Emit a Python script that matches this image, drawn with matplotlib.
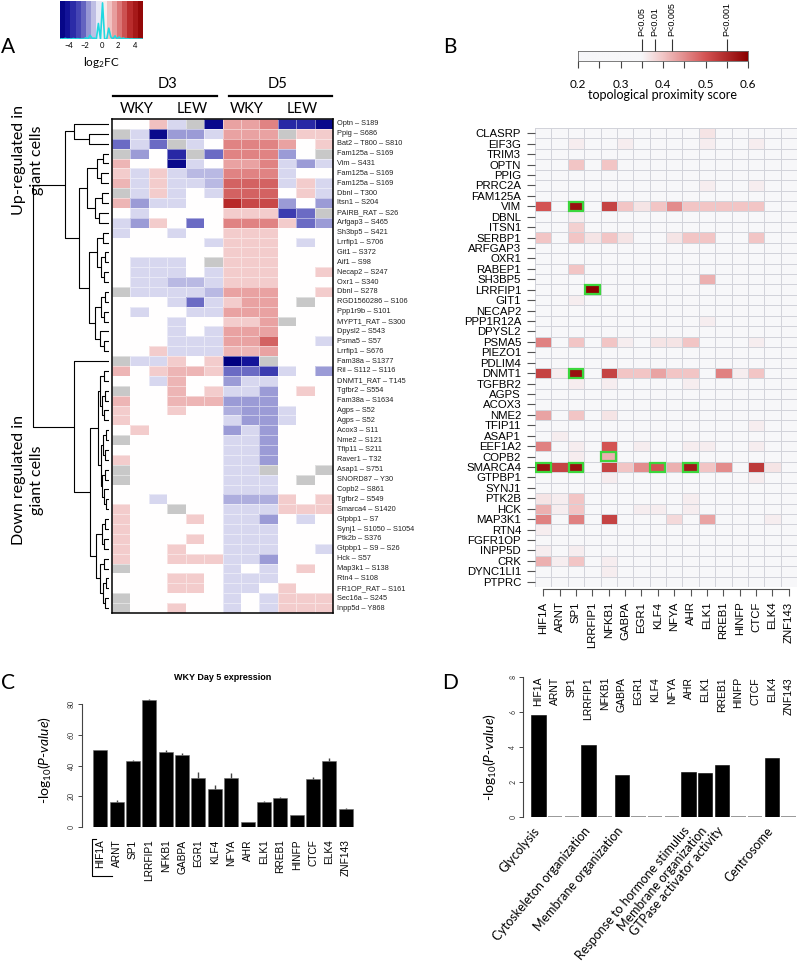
import numpy as np
import matplotlib
matplotlib.use('Agg')
import matplotlib.pyplot as plt
from matplotlib.colors import LinearSegmentedColormap
from matplotlib.patches import Rectangle
from matplotlib.lines import Line2D

plt.rcParams['mathtext.fontset'] = 'custom'
plt.rcParams['mathtext.rm'] = 'Lato'
plt.rcParams['mathtext.it'] = 'Lato:italic'
plt.rcParams['font.family'] = ['Lato', 'DejaVu Sans']

N = np.nan

# ---------------- panel A : log2FC of phosphosites ----------------
a_rows = ['Optn – S189', 'Ppig – S686', 'Bat2 – T800 – S810', 'Fam125a – S169', 'Vim – S431',
          'Fam125a – S169', 'Fam125a – S169', 'Dbnl – T300', 'Itsn1 – S204', 'PAIRB_RAT – S26',
          'Arfgap3 – S465', 'Sh3bp5 – S421', 'Lrrfip1 – S706', 'Git1 – S372', 'Aif1 – S98',
          'Necap2 – S247', 'Oxr1 – S340', 'Dbnl – S278', 'RGD1560286 – S106', 'Ppp1r9b – S101',
          'MYPT1_RAT – S300', 'Dpysl2 – S543', 'Psma5 – S57', 'Lrrfip1 – S676', 'Fam38a – S1377',
          'Ril – S112 – S116', 'DNMT1_RAT – T145', 'Tgfbr2 – S554', 'Fam38a – S1634', 'Agps – S52',
          'Agps – S52', 'Acox3 – S11', 'Nme2 – S121', 'Tfip11 – S211', 'Raver1 – T32',
          'Asap1 – S751', 'SNORD87 – Y30', 'Copb2 – S861', 'Tgfbr2 – S549', 'Smarca4 – S1420',
          'Gtpbp1 – S7', 'Synj1 – S1050 – S1054', 'Ptk2b – S376', 'Gtpbp1 – S9 – S26', 'Hck – S57',
          'Map3k1 – S138', 'Rtn4 – S108', 'FR1OP_RAT – S161', 'Sec16a – S245', 'Inpp5d – Y868']
a_groups = ['D3', 'D5']
a_strains = ['WKY', 'LEW']
# columns: D3 WKY x3, D3 LEW x3, D5 WKY x3, D5 LEW x3
a_fc = [
    [0, 0, 1, -0.5, N, -4.5, 1.5, 1.5, 2, -3.5, -3.5, -4.5],
    [N, -0.5, -4.5, -1.5, -1.5, -0.5, 1.5, 1.5, 1.5, N, 0.8, 0.8],
    [-2, -0.5, -2, N, -0.5, 0, 2, 2, 2, 1.5, 0, 0.8],
    [N, -1.5, 0, -3.5, N, -2, 2, 2, 2, -1.5, 0, N],
    [1.2, 0, 0, -4.5, -0.5, 0, 1.5, 1.5, 2, -0.5, -1.5, -0.5],
    [0.8, -0.5, 0.8, -0.5, -1, -1, 2, 2, 2, -0.5, 0, 0],
    [1.2, -0.5, 0.8, -0.5, -0.5, -1, 2.5, 2.5, 2.5, -0.5, 0.8, -0.5],
    [N, -0.5, 0.8, -0.5, 0, -0.5, 2.5, 2.5, 2.5, 0, 0.8, -0.5],
    [1.2, -1.5, -0.5, -0.5, 0, 0, 3.5, 3, 3, -1.5, 0, -1.5],
    [0, -0.5, 0, 0, 0, 0, 0.8, 0.8, 0.8, -3, -2, N],
    [-0.5, -1.5, 0.8, 0, -2, 0, 2, 2, 2, 0.8, -2, -1.5],
    [-0.5, 0, 0, -0.5, 0, 0, 0.8, 0.8, 0.8, 0, 0, 0],
    [0, 0, 0, 0, 0, -0.5, 0.8, 0.8, 0.8, 0, -0.5, 0],
    [0, 0, 0, 0, 0, 0, 0.8, 0.8, 0.8, 0, 0, 0],
    [0, -0.5, -0.5, -0.5, 0, N, 0.8, 0.8, 0.8, 0, 0, 0],
    [0, -0.5, -0.5, -0.5, 0, -0.5, 0.8, 0.8, 0.8, 0, 0, 0.8],
    [0, -0.5, -0.5, -1, -1, -0.5, 0.8, 0.8, 0.8, 0, 0, 0],
    [N, -0.5, -0.5, -0.5, -0.5, -1, 1.5, 1.5, 1.5, 0, 0, 0.8],
    [0, 0, 0, -0.5, -2, -0.5, 0.8, 1.5, 1.5, 0, N, 0],
    [0, -0.5, 0, 0, -0.5, -0.5, 1.5, 1.5, 1.5, 0, 0, 0],
    [0, 0, 0, -0.5, 0, 0, 0.8, 0.8, 1.5, N, 0, 0],
    [0, 0, 0, -0.5, 0, -0.5, 1.5, 1.5, 1.5, 0, 0, 0],
    [0, 0, 0, -0.5, -0.5, -0.5, 1.5, 1.5, 2.5, 0, 0, -0.5],
    [0, 0, 0.8, -0.5, -0.5, -0.5, 1.2, 1.2, 1.5, 0, 0, 0],
    [N, -0.5, -0.5, 0.8, 0, 0.8, -5, -4, N, 0, 0, 0],
    [1.2, 0, 0.8, 1.2, 1.2, 0.8, -2, -2, -3, -0.5, 0, -1.5],
    [0, 0, -0.5, 1.2, 0, 0, -1.5, -0.5, -0.5, 0, 0, 0],
    [N, 0, 0, 1.2, 0, 0.8, -0.5, -0.5, -1.5, 0, 0.8, 0],
    [1.2, 0, 0, 1.2, 1.2, 1.2, -1.5, -1.5, -1.5, 0, 0, 0],
    [0.8, 0, 0, 0.8, 0, 0, -1.2, -1.5, -1.5, -0.5, 0, 0],
    [0.8, 0, 0, 0, 0, 0, -0.5, -1.5, -1.5, -0.5, 0, 0],
    [0, 0.8, 0, 0, 0, 0, -1.5, -0.5, -1.5, 0, 0, 0],
    [N, 0, 0, 0, 0, 0, -0.5, -0.5, -1.5, 0, 0, 0],
    [0, 0, 0, 0, 0, 0, -0.5, -0.5, -1.5, 0, 0, 0],
    [0.8, 0, 0, 0, 0, 0, -0.5, -0.5, -1.5, 0, 0, 0],
    [N, 0, 0, 0, 0, 0, -0.5, -0.5, N, 0, 0, N],
    [N, 0, 0, 0, 0, 0, -0.5, -0.5, -0.5, 0, N, 0],
    [0, 0, 0, 0, 0, 0, -0.5, -0.5, -0.5, 0, 0, 0],
    [0, 0, -0.5, 0, 0, 0, -1.2, -1.2, -1.2, 0.8, 0, 0.8],
    [0.8, 0, 0, N, 0, 0, -0.5, -0.5, -0.5, 0.8, 0.8, 0.8],
    [0.8, 0, 0, 0, 0.8, 0, -0.5, -0.5, -1.5, 0, -0.5, 0],
    [0.8, 0, 0, 0, 0, 0, -0.5, -0.5, -0.5, 0, 0, 0],
    [0.8, 0, 0, 0, 0.8, 0, -0.5, -0.5, -0.5, 0, 0, 0],
    [0.8, 0, 0, 0.8, 0, 0, -0.5, -0.5, -0.5, 0, 0, -0.5],
    [0.8, 0, 0, 0.8, 0.8, 0.8, -0.5, -0.5, -1.5, 0, 0, 0],
    [N, 0, 0, 0, 0, 0, -0.5, 0, -0.5, 0, 0.8, 0],
    [0, 0, 0, 0.8, 0.8, 0, -0.5, -0.5, -0.5, 0, 0, 0],
    [0, 0, 0, 0.8, 0.8, 0, -0.5, -0.5, 0, 0.8, 0, 0],
    [N, 0, 0, 0, 0, 0, -0.5, 0, -0.5, 0.8, 0.8, 0.8],
    [N, 0, 0, 0.8, 0, 0, -0.5, 0, -0.5, 0.8, 0.8, 0.8],
]
# row dendrogram: [merge height, left, right], leaves = row index
a_tree = [76,
          [44,
           [35, 0, [20, 1, 2]],
           [30,
            [22, [12, [6, 3, 4], [8, 5, 6]], [14, [7, 7, 8], [10, 9, 10]]],
            [20, [12, [6, 11, 12], [8, [4, 13, 14], [5, 15, 16]]],
                 [14, [8, [4, 17, 18], [5, 19, 20]], [9, 21, [5, 22, 23]]]]]],
          [35,
           24,
           [19,
            [11, [9, [5, 25, 26], [7, [4, 27, 28], [5, 29, 30]]],
                 [8, [6, [3, 31, 32], [4, 33, 34]], [7, [4, 35, 36], [5, 37, [3, 38, 39]]]]],
            [13, [7, [4, 40, 41], [5, 42, 43]], [9, [5, 44, 45], [6, [3, 46, 47], [4, 48, 49]]]]]]]

# ---------------- panel B : topological proximity ----------------
b_genes = ['CLASRP', 'EIF3G', 'TRIM3', 'OPTN', 'PPIG', 'PRRC2A', 'FAM125A', 'VIM', 'DBNL', 'ITSN1',
           'SERBP1', 'ARFGAP3', 'OXR1', 'RABEP1', 'SH3BP5', 'LRRFIP1', 'GIT1', 'NECAP2', 'PPP1R12A',
           'DPYSL2', 'PSMA5', 'PIEZO1', 'PDLIM4', 'DNMT1', 'TGFBR2', 'AGPS', 'ACOX3', 'NME2', 'TFIP11',
           'ASAP1', 'EEF1A2', 'COPB2', 'SMARCA4', 'GTPBP1', 'SYNJ1', 'PTK2B', 'HCK', 'MAP3K1', 'RTN4',
           'FGFR1OP', 'INPP5D', 'CRK', 'DYNC1LI1', 'PTPRC']
b_tfs = ['HIF1A', 'ARNT', 'SP1', 'LRRFIP1', 'NFKB1', 'GABPA', 'EGR1', 'KLF4', 'NFYA', 'AHR',
         'ELK1', 'RREB1', 'HINFP', 'CTCF', 'ELK4', 'ZNF143']
b_scores = [
    ('CLASRP', 'ELK1', 0.37),
    ('EIF3G', 'SP1', 0.36), ('EIF3G', 'GABPA', 0.36), ('EIF3G', 'ELK1', 0.36), ('EIF3G', 'CTCF', 0.36),
    ('OPTN', 'SP1', 0.40), ('OPTN', 'NFKB1', 0.40),
    ('PRRC2A', 'ELK1', 0.36), ('PRRC2A', 'CTCF', 0.36),
    ('VIM', 'HIF1A', 0.50), ('VIM', 'SP1', 0.58), ('VIM', 'NFKB1', 0.52), ('VIM', 'GABPA', 0.40),
    ('VIM', 'EGR1', 0.37), ('VIM', 'KLF4', 0.40), ('VIM', 'NFYA', 0.45), ('VIM', 'AHR', 0.40),
    ('VIM', 'ELK1', 0.40), ('VIM', 'RREB1', 0.40), ('VIM', 'HINFP', 0.40), ('VIM', 'CTCF', 0.40),
    ('DBNL', 'SP1', 0.36), ('ITSN1', 'SP1', 0.39),
    ('SERBP1', 'HIF1A', 0.40), ('SERBP1', 'SP1', 0.40), ('SERBP1', 'LRRFIP1', 0.37),
    ('SERBP1', 'NFKB1', 0.40), ('SERBP1', 'GABPA', 0.37), ('SERBP1', 'NFYA', 0.37),
    ('SERBP1', 'AHR', 0.40), ('SERBP1', 'ELK1', 0.40), ('SERBP1', 'CTCF', 0.40),
    ('RABEP1', 'SP1', 0.40), ('SH3BP5', 'ELK1', 0.42), ('LRRFIP1', 'LRRFIP1', 0.60),
    ('GIT1', 'SP1', 0.36), ('PPP1R12A', 'ELK1', 0.36),
    ('PSMA5', 'HIF1A', 0.46), ('PSMA5', 'SP1', 0.40), ('PSMA5', 'NFKB1', 0.40), ('PSMA5', 'GABPA', 0.36),
    ('PSMA5', 'KLF4', 0.37), ('PSMA5', 'NFYA', 0.37), ('PSMA5', 'AHR', 0.40), ('PSMA5', 'CTCF', 0.36),
    ('DNMT1', 'HIF1A', 0.52), ('DNMT1', 'ARNT', 0.36), ('DNMT1', 'SP1', 0.58), ('DNMT1', 'NFKB1', 0.52),
    ('DNMT1', 'GABPA', 0.40), ('DNMT1', 'EGR1', 0.40), ('DNMT1', 'KLF4', 0.43), ('DNMT1', 'NFYA', 0.40),
    ('DNMT1', 'AHR', 0.40), ('DNMT1', 'RREB1', 0.46), ('DNMT1', 'HINFP', 0.36), ('DNMT1', 'CTCF', 0.40),
    ('TGFBR2', 'SP1', 0.36), ('TGFBR2', 'NFKB1', 0.36), ('TGFBR2', 'AHR', 0.36),
    ('NME2', 'HIF1A', 0.43), ('NME2', 'SP1', 0.40), ('NME2', 'NFKB1', 0.37),
    ('TFIP11', 'CTCF', 0.36), ('ASAP1', 'ARNT', 0.36),
    ('EEF1A2', 'HIF1A', 0.46), ('EEF1A2', 'SP1', 0.36), ('EEF1A2', 'NFKB1', 0.50), ('EEF1A2', 'EGR1', 0.36),
    ('EEF1A2', 'AHR', 0.36), ('EEF1A2', 'ELK1', 0.36), ('EEF1A2', 'CTCF', 0.36),
    ('COPB2', 'SP1', 0.36), ('COPB2', 'NFKB1', 0.42),
    ('SMARCA4', 'HIF1A', 0.58), ('SMARCA4', 'ARNT', 0.52), ('SMARCA4', 'SP1', 0.58),
    ('SMARCA4', 'NFKB1', 0.52), ('SMARCA4', 'GABPA', 0.40), ('SMARCA4', 'EGR1', 0.45),
    ('SMARCA4', 'KLF4', 0.50), ('SMARCA4', 'NFYA', 0.42), ('SMARCA4', 'AHR', 0.57),
    ('SMARCA4', 'ELK1', 0.40), ('SMARCA4', 'RREB1', 0.45), ('SMARCA4', 'CTCF', 0.53), ('SMARCA4', 'ELK4', 0.37),
    ('GTPBP1', 'NFKB1', 0.36), ('GTPBP1', 'CTCF', 0.36),
    ('PTK2B', 'HIF1A', 0.37), ('PTK2B', 'ARNT', 0.36), ('PTK2B', 'SP1', 0.40), ('PTK2B', 'AHR', 0.36),
    ('HCK', 'HIF1A', 0.42), ('HCK', 'ARNT', 0.36), ('HCK', 'SP1', 0.40), ('HCK', 'EGR1', 0.36),
    ('HCK', 'KLF4', 0.36), ('HCK', 'AHR', 0.36),
    ('MAP3K1', 'HIF1A', 0.46), ('MAP3K1', 'SP1', 0.46), ('MAP3K1', 'NFKB1', 0.52), ('MAP3K1', 'NFYA', 0.38),
    ('MAP3K1', 'ELK1', 0.43), ('MAP3K1', 'ELK4', 0.36),
    ('RTN4', 'HIF1A', 0.36), ('INPP5D', 'HIF1A', 0.36), ('INPP5D', 'SP1', 0.36),
    ('CRK', 'HIF1A', 0.42), ('CRK', 'ARNT', 0.36), ('CRK', 'SP1', 0.40), ('CRK', 'NFKB1', 0.36),
    ('DYNC1LI1', 'NFKB1', 0.36),
]
b_sig = [('VIM', 'SP1'), ('LRRFIP1', 'LRRFIP1'), ('DNMT1', 'SP1'), ('COPB2', 'NFKB1'),
         ('SMARCA4', 'HIF1A'), ('SMARCA4', 'SP1'), ('SMARCA4', 'KLF4'), ('SMARCA4', 'AHR')]
b_pcuts = [0.35, 0.38, 0.42, 0.55]
b_plabels = ['P<0.05', 'P<0.01', 'P<0.005', 'P<0.001']

# ---------------- panel C : WKY day 5 expression ----------------
c_vals = [50, 16, 43, 83, 49, 47, 32, 25, 32, 3, 16, 19, 7.5, 31.5, 43, 12]
c_err = [0.5, 1.5, 1, 0.5, 1, 1.5, 4, 2.5, 3, 0.3, 1.2, 0.5, 0.3, 0.8, 2, 0.5]

# ---------------- panel D : GO enrichment ----------------
d_vals = [5.85, 0, 0, 4.1, 0, 2.4, 0, 0, 0, 2.55, 2.5, 2.95, 0, 0, 3.35, 0]
d_terms = ['Glycolysis', '', '', 'Cytoskeleton organization', '', 'Membrane organization', '', '',
           '', 'Response to hormone stimulus', 'Membrane organization', 'GTPase activator activity',
           '', '', 'Centrosome', '']

W, H = 800, 964
fig = plt.figure(figsize=(W / 100, H / 100), dpi=100)


def px_axes(x0, y0, x1, y1):
    return fig.add_axes([x0 / W, 1 - y1 / H, (x1 - x0) / W, (y1 - y0) / H])


def ftext(x, y, s, **kw):
    return fig.text(x / W, 1 - y / H, s, **kw)


ARIAL = 'Liberation Sans'

# ================= A =================
fc = np.array(a_fc, dtype=float)
fc_cmap = LinearSegmentedColormap.from_list('fc', [
    (0.0, '#000080'), (0.1, '#14149a'), (0.2, '#3c3cb0'), (0.3, '#6c6cc4'), (0.35, '#9c9cd6'),
    (0.45, '#d6d6ef'), (0.5, '#ffffff'), (0.58, '#f3cccc'), (0.65, '#e9a3a3'), (0.7, '#e08484'),
    (0.75, '#d46464'), (0.8, '#c84848'), (0.85, '#b82a2a'), (1.0, '#8b0000')])
fc_cmap.set_bad('#c8c8c8')

nr, nc = fc.shape
ax = px_axes(112, 119, 333, 613)
ax.pcolormesh(np.ma.masked_invalid(fc), cmap=fc_cmap, vmin=-5, vmax=5,
              edgecolors=(1, 1, 1, 0.45), linewidth=0.4)
ax.set_xlim(0, nc)
ax.set_ylim(nr, 0)
ax.set_xticks([])
ax.set_yticks([])
for s in ax.spines.values():
    s.set_linewidth(1.1)
for i, lab in enumerate(a_rows):
    ax.text(nc + 0.2, i + 0.5, lab, fontsize=5.3, va='center', ha='left', family=ARIAL, color='#222')

# column headers
colw = 221 / nc
for j, g in enumerate(a_groups):
    x0 = 112 + j * 6 * colw
    x1 = x0 + 6 * colw
    fig.add_artist(Line2D([(x0 + 1 + 5 * j) / W, (x1 - 6 + 5 * j) / W], [1 - 96 / H] * 2,
                          color='k', lw=1.6))
    ftext((x0 + x1) / 2, 84, g, fontsize=10.5, ha='center', va='center')
    for k, st in enumerate(a_strains):
        ftext(x0 + (3 * k + 1.5) * colw - 3, 109, st, fontsize=10.5, ha='center', va='center')

# dendrogram
axd = px_axes(26, 119, 109, 613)


def draw_tree(node):
    if isinstance(node, int):
        return node + 0.5, 0
    h, left, right = node
    yl, hl = draw_tree(left)
    yr, hr = draw_tree(right)
    axd.plot([hl, h, h, hr], [yl, yl, yr, yr], color='k', lw=0.8, solid_capstyle='butt')
    return (yl + yr) / 2, h


draw_tree(a_tree)
axd.set_xlim(83, 0)
axd.set_ylim(nr, 0)
axd.axis('off')

ftext(28, 160, 'Up-regulated in\ngiant cells', rotation=90, fontsize=11.5, ha='center', va='center',
      linespacing=1.45)
ftext(28, 480, 'Down regulated in\ngiant cells', rotation=90, fontsize=11.5, ha='center', va='center',
      linespacing=1.45)
ftext(8, 47, 'A', fontsize=15, ha='center', va='center')

# colour key
axk = px_axes(60, 1, 143, 39)
edges = np.linspace(-5, 5, 17)
axk.pcolormesh(edges, [0, 1], ((edges[:-1] + edges[1:]) / 2)[None, :], cmap=fc_cmap, vmin=-5, vmax=5)
vals = fc[~np.isnan(fc)]
cnt, be = np.histogram(vals, bins=np.linspace(-5, 5, 41))
axk.plot((be[:-1] + be[1:]) / 2, cnt / cnt.max() * 0.95, color='#22d8e0', lw=1.2)
axk.set_xlim(-5, 5)
axk.set_ylim(0, 1)
axk.set_yticks([])
axk.set_xticks([-4, -2, 0, 2, 4])
axk.tick_params(axis='x', length=0, pad=2, labelsize=5.5)
for s in axk.spines.values():
    s.set_visible(False)
ftext(101, 63, r'log$_2$FC', fontsize=8.5, ha='center', va='center')

# ================= B =================
gi = {g: i for i, g in enumerate(b_genes)}
ti = {t: j for j, t in enumerate(b_tfs)}
tp = np.zeros((len(b_genes), len(b_tfs)))
for g, t, v in b_scores:
    tp[gi[g], ti[t]] = v
tp_cmap = LinearSegmentedColormap.from_list('tp', [
    (0.0, '#f7f7f9'), (0.375, '#f7f7f9'), (0.5, '#f2c6c6'), (0.75, '#d45454'), (1.0, '#8b0000')])

axb = px_axes(535, 128, 797, 587)
axb.pcolormesh(tp, cmap=tp_cmap, vmin=0.2, vmax=0.6, edgecolors='#d2d3da', linewidth=0.7)
for g, t in b_sig:
    axb.add_patch(Rectangle((ti[t] + 0.05, gi[g] + 0.07), 0.9, 0.86, fill=False,
                            ec='#3cd63c', lw=1.6))
axb.set_xlim(0, len(b_tfs))
axb.set_ylim(len(b_genes), 0)
for k in ['top', 'right', 'left']:
    axb.spines[k].set_visible(False)
axb.spines['bottom'].set_position(('outward', 1.5))
axb.spines['bottom'].set_bounds(0.5, len(b_tfs) - 0.5)
axb.spines['bottom'].set_color('#555')
axb.set_yticks(np.arange(len(b_genes)) + 0.5, b_genes, fontsize=8.2, family=ARIAL)
axb.set_xticks(np.arange(len(b_tfs)) + 0.5, b_tfs, rotation=90, fontsize=8.2, family=ARIAL)
axb.tick_params(axis='y', length=6, width=0.8, color='#555', pad=4)
axb.tick_params(axis='x', length=5, width=0.8, color='#555', pad=4)
ftext(450, 47, 'B', fontsize=15, ha='center', va='center')

# colour key B
axc2 = px_axes(578, 51, 748, 61)
axc2.imshow(np.linspace(0.2, 0.6, 256)[None, :], cmap=tp_cmap, vmin=0.2, vmax=0.6,
            aspect='auto', extent=[0.2, 0.6, 0, 1])
ticks = np.arange(0.2, 0.601, 0.05)
axc2.set_xticks(ticks, ['%.1f' % t if abs(t * 10 - round(t * 10)) < 1e-6 else '' for t in ticks])
axc2.tick_params(axis='x', length=5, width=0.8, color='#444', pad=8, labelsize=8.5)
axc2.set_yticks([])
for s in axc2.spines.values():
    s.set_linewidth(0.6)
    s.set_color('#666')
top = axc2.twiny()
top.set_xlim(0.2, 0.6)
top.set_xticks(b_pcuts, b_plabels, rotation=90, fontsize=6.5, family=ARIAL)
top.tick_params(axis='x', length=9, width=0.8, color='#333', pad=2)
for s in top.spines.values():
    s.set_visible(False)
ftext(663, 95, 'topological proximity score', fontsize=9, ha='center', va='center')

# ================= C =================
x = np.arange(len(b_tfs))
axc = px_axes(92, 692, 354, 827)
axc.bar(x, c_vals, width=0.86, color='black', edgecolor='#666', linewidth=0.4)
axc.errorbar(x, c_vals, yerr=[np.zeros(len(x)), c_err], fmt='none', ecolor='#444', elinewidth=1, capsize=0)
axc.set_xlim(-0.5, len(x) - 0.5)
axc.set_ylim(0, 88)
for k in ['top', 'right', 'bottom']:
    axc.spines[k].set_visible(False)
axc.spines['left'].set_position(('outward', 7.4))
axc.spines['left'].set_bounds(0, 80)
axc.spines['left'].set_color('#444')
axc.set_yticks([0, 20, 40, 60, 80])
axc.tick_params(axis='y', length=3, width=0.7, color='#444', labelsize=5, pad=2, labelcolor='#333')
for lab in axc.get_yticklabels():
    lab.set_rotation(90)
    lab.set_va('center')
axc.set_xticks(x, b_tfs, rotation=90, fontsize=7.3, family=ARIAL)
axc.tick_params(axis='x', length=0, pad=9)
ftext(223, 677, 'WKY Day 5 expression', fontsize=6.5, fontweight='bold', family=ARIAL,
      ha='center', va='center')
ftext(45, 760, r'-log$_{10}$($\mathit{P}$-$\mathit{value}$)', rotation=90, fontsize=10,
      ha='center', va='center')
fig.add_artist(Line2D([96 / W, 92 / W, 92 / W, 112 / W],
                      [1 - 839 / H, 1 - 839 / H, 1 - 876 / H, 1 - 876 / H], color='k', lw=0.8))
ftext(8, 683, 'C', fontsize=15, ha='center', va='center')

# ================= D =================
axg = px_axes(530, 677, 797, 817)
ecs = ['#999999' if v == 0 else 'black' for v in d_vals]
lws = [1.4 if v == 0 else 0.4 for v in d_vals]
axg.bar(x, d_vals, width=0.86, color='black', edgecolor=ecs, linewidth=lws)
axg.set_xlim(-0.5, len(x) - 0.5)
axg.set_ylim(0, 8)
for k in ['top', 'right', 'bottom']:
    axg.spines[k].set_visible(False)
axg.spines['left'].set_position(('outward', 4.8))
axg.spines['left'].set_bounds(0, 8)
axg.spines['left'].set_color('#444')
axg.set_yticks([0, 2, 4, 6, 8])
axg.tick_params(axis='y', length=3, width=0.7, color='#444', labelsize=5, pad=2, labelcolor='#333')
for lab in axg.get_yticklabels():
    lab.set_rotation(90)
    lab.set_va('center')
axg.set_xticks([])
for i, t in enumerate(b_tfs):
    axg.text(i, 8, t, rotation=90, ha='center', va='top', fontsize=7.5, family=ARIAL)
for i, t in enumerate(d_terms):
    if t:
        axg.text(i - 0.05, -0.67, t, rotation=50, ha='right', va='center', rotation_mode='anchor',
                 fontsize=9)
ftext(490, 757, r'-log$_{10}$($\mathit{P}$-$\mathit{value}$)', rotation=90, fontsize=10,
      ha='center', va='center')
ftext(450, 683, 'D', fontsize=15, ha='center', va='center')

fig.savefig('out.png', dpi=100)
